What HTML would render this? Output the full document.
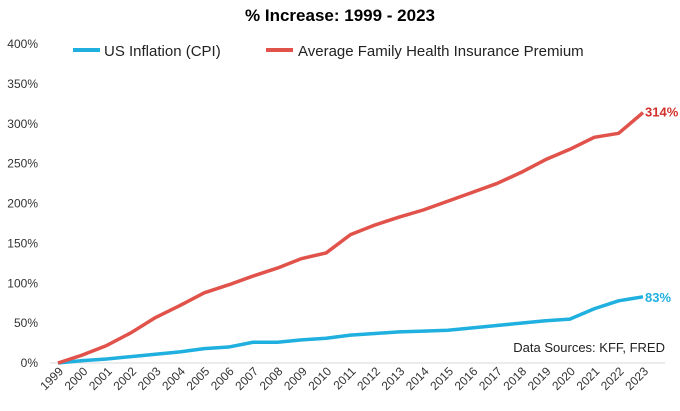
<!DOCTYPE html>
<html><head><meta charset="utf-8"><style>
body{margin:0;background:#fff;font-family:"Liberation Sans",sans-serif}
</style></head><body>
<svg width="680" height="406" id="c" font-family="Liberation Sans, sans-serif">
<text x="340" y="21" text-anchor="middle" font-size="17" font-weight="bold" fill="#000">% Increase: 1999 - 2023</text>
<g>
<line x1="73" y1="50" x2="100" y2="50" stroke="#1fb0e0" stroke-width="4"/>
<text x="104" y="56" font-size="15" fill="#222">US Inflation (CPI)</text>
<line x1="266" y1="50" x2="293" y2="50" stroke="#e0524a" stroke-width="4"/>
<text x="298" y="56" font-size="15" fill="#222">Average Family Health Insurance Premium</text>
</g>
<text x="665" y="352" text-anchor="end" font-size="13" fill="#222">Data Sources: KFF, FRED</text>
</svg>
<script>
const years=[1999,2000,2001,2002,2003,2004,2005,2006,2007,2008,2009,2010,2011,2012,2013,2014,2015,2016,2017,2018,2019,2020,2021,2022,2023];
const premium=[0,10,22,38,57,72,88,98,109,119,131,138,161,173,183,192,203,214,225,239,255,268,283,288,314];
const cpi=[0,3,5,8,11,14,18,20,26,26,29,31,35,37,39,40,41,44,47,50,53,55,68,78,83];
const yTicks=[0,50,100,150,200,250,300,350,400];
const svg=document.getElementById('c');
const NS='http://www.w3.org/2000/svg';
const x=i=>58+i*(643-58)/(years.length-1);
const y=v=>363-v*0.7975;
function mk(t,a){const e=document.createElementNS(NS,t);for(const k in a)e.setAttribute(k,a[k]);svg.appendChild(e);return e;}
const base=mk('line',{x1:50,x2:665,y1:y(0),y2:y(0),stroke:'#d9d9d9','stroke-width':1});


yTicks.forEach(t=>{const e=mk('text',{x:38,y:y(t)+4,'text-anchor':'end','font-size':12,fill:'#333'});e.textContent=t+'%';

});
years.forEach((yr,i)=>{const e=mk('text',{x:x(i)+6,y:372,'text-anchor':'end','font-size':12,fill:'#333',transform:`rotate(-45 ${x(i)+6} 372)`});e.textContent=yr;

});
function line(vals,col,name){const p=mk('polyline',{points:vals.map((v,i)=>x(i)+','+y(v)).join(' '),fill:'none',stroke:col,'stroke-width':3.5,'stroke-linejoin':'round'});

}
line(cpi,'#1fb0e0','cpi-line');
line(premium,'#e0524a','premium-line');
const n=years.length-1;
const l1=mk('text',{x:x(n)+2,y:y(premium[n])+4,'font-size':13,'font-weight':'bold',fill:'#d2312b'});l1.textContent=premium[n]+'%';


const l2=mk('text',{x:x(n)+2,y:y(cpi[n])+5,'font-size':13,'font-weight':'bold',fill:'#1fb0e0'});l2.textContent=cpi[n]+'%';


</script>
</body></html>
